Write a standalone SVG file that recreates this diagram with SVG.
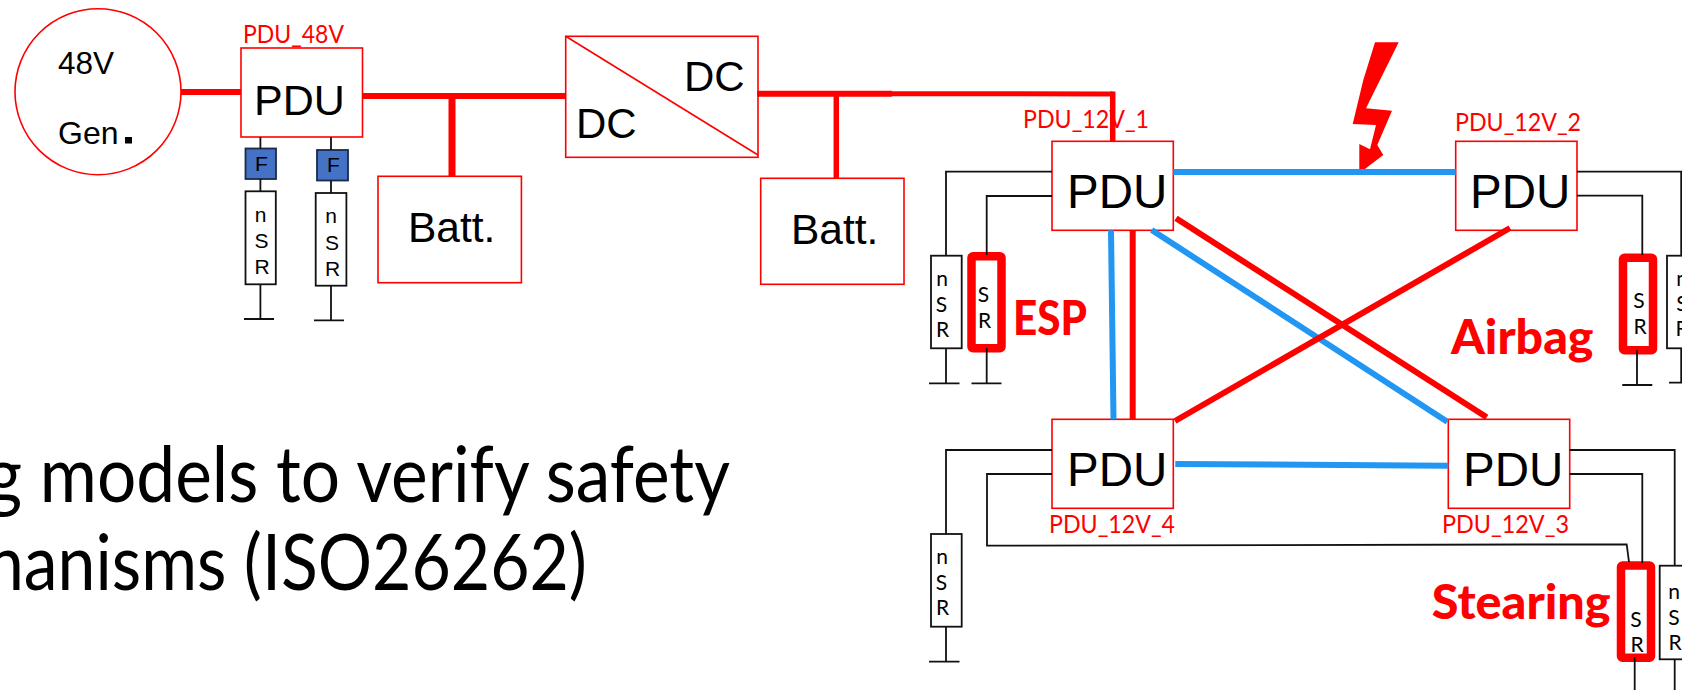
<svg xmlns="http://www.w3.org/2000/svg" width="1682" height="690" viewBox="0 0 1682 690">
<style>
text{font-family:"Liberation Sans",Arial,sans-serif;fill:#000}
.box{fill:#fff;stroke:#f00;stroke-width:1.6}
.pdu{font-size:47.5px}
.pdu48{font-size:43px}
.batt{font-size:42.5px}
.dc{font-size:42px}
.lbl{font-family:Lato,"Open Sans",sans-serif;font-size:25px;fill:#f00}
.crit{font-family:Lato,"Open Sans",sans-serif;font-weight:900;font-size:47px;fill:#f00}
.big{font-family:Lato,"Open Sans",sans-serif;font-size:78px}
.r{fill:#fff;stroke:#111;stroke-width:1.8}
.sr{fill:#fff;stroke:#f00;stroke-width:8.5;stroke-linejoin:round}
.fuse{fill:#4472c4;stroke:#1a2a4a;stroke-width:1.8}
.l1{font-size:21px;text-anchor:middle}
.l2{font-family:Lato,"Open Sans",sans-serif;font-size:21px;text-anchor:middle}
.w{fill:none;stroke:#111;stroke-width:1.8}
.t{fill:none;stroke:#f00;stroke-width:6}
.b{fill:none;stroke:#2196f3;stroke-width:6}
</style>

<g id="caption">
<text class="big" x="-14" y="502" textLength="744" lengthAdjust="spacingAndGlyphs">g models to verify safety</text>
<text class="big" x="-14" y="590" textLength="601" lengthAdjust="spacingAndGlyphs">hanisms (ISO26262)</text>
</g>

<g id="gen48">
<ellipse class="box" cx="98" cy="91.7" rx="83" ry="83"/>
<text x="58" y="74" font-size="31.5">48V</text>
<text x="58" y="144" font-size="32">Gen</text>
<rect x="125" y="137" width="7" height="6.5" fill="#000"/>
</g>

<g id="pdu48">
<rect class="box" x="241" y="48" width="121.5" height="89"/>
<text class="pdu48" x="254" y="115">PDU</text>
<text class="lbl" x="243" y="42.7" textLength="101" lengthAdjust="spacingAndGlyphs">PDU_48V</text>
</g>

<g id="fuse1"><rect class="fuse" x="245.5" y="148.5" width="30.5" height="30.5"/><text class="l1" x="261.5" y="171">F</text></g>
<g id="fuse2"><rect class="fuse" x="317" y="150" width="31" height="30.5"/><text class="l1" x="333.5" y="171.5">F</text></g>
<g id="nsr1"><rect class="r" x="245.5" y="191.3" width="30.3" height="93"/>
<text class="l1" x="260.5" y="221.7">n</text><text class="l1" x="261.5" y="248.3">S</text><text class="l1" x="262" y="274">R</text></g>
<g id="nsr2"><rect class="r" x="315.7" y="193" width="30.7" height="92.7"/>
<text class="l1" x="331" y="223">n</text><text class="l1" x="332" y="249.5">S</text><text class="l1" x="332.5" y="275.5">R</text></g>

<g id="batt1"><rect class="box" x="378" y="176.3" width="143.4" height="106.4"/><text class="batt" x="408" y="242">Batt.</text></g>

<g id="dcdc">
<rect class="box" x="565.7" y="36.3" width="192.3" height="121"/>
<path d="M565.7 36.3L758 155" fill="none" stroke="#f00" stroke-width="1.6"/>
<text class="dc" x="684" y="91">DC</text>
<text class="dc" x="576" y="138">DC</text>
</g>

<g id="batt2"><rect class="box" x="760.7" y="178.3" width="143.3" height="106"/><text class="batt" x="791" y="244">Batt.</text></g>

<g id="pdu1">
<rect class="box" x="1052" y="141.3" width="121.3" height="89"/>
<text class="pdu" x="1067" y="208">PDU</text>
<text class="lbl" x="1023" y="128" textLength="126" lengthAdjust="spacingAndGlyphs">PDU_12V_1</text>
</g>
<g id="pdu2">
<rect class="box" x="1455.7" y="141.3" width="121.3" height="89"/>
<text class="pdu" x="1470" y="208">PDU</text>
<text class="lbl" x="1455" y="130.7" textLength="126" lengthAdjust="spacingAndGlyphs">PDU_12V_2</text>
</g>
<g id="pdu3">
<rect class="box" x="1448.3" y="419.3" width="121.4" height="89"/>
<text class="pdu" x="1463" y="486">PDU</text>
<text class="lbl" x="1442" y="532.7" textLength="127" lengthAdjust="spacingAndGlyphs">PDU_12V_3</text>
</g>
<g id="pdu4">
<rect class="box" x="1052" y="419.3" width="121.3" height="89"/>
<text class="pdu" x="1067" y="486">PDU</text>
<text class="lbl" x="1049" y="532.7" textLength="126" lengthAdjust="spacingAndGlyphs">PDU_12V_4</text>
</g>

<g id="nsr-pdu1"><rect class="r" x="931" y="255.7" width="30.7" height="92.6"/>
<text class="l2" x="942" y="286">n</text><text class="l2" x="941.5" y="311.7">S</text><text class="l2" x="942.5" y="337">R</text></g>
<g id="sr-esp"><rect class="sr" x="971.5" y="256.2" width="30" height="92" rx="1.5"/>
<text class="l2" x="983.5" y="302">S</text><text class="l2" x="984.5" y="328">R</text></g>
<text id="esp" class="crit" x="1013" y="335" textLength="74" lengthAdjust="spacingAndGlyphs">ESP</text>

<g id="nsr-pdu2"><rect class="r" x="1667" y="255.7" width="30" height="92.6"/>
<text class="l2" x="1682" y="286">n</text><text class="l2" x="1682" y="311">S</text><text class="l2" x="1682" y="336">R</text></g>
<g id="sr-airbag"><rect class="sr" x="1623" y="257.7" width="30" height="92.5" rx="1.5"/>
<text class="l2" x="1639" y="308">S</text><text class="l2" x="1640" y="334">R</text></g>
<text id="airbag" class="crit" x="1451" y="354.3" textLength="142.5" lengthAdjust="spacingAndGlyphs">Airbag</text>

<g id="nsr-pdu4"><rect class="r" x="931" y="534" width="30.7" height="92.7"/>
<text class="l2" x="942" y="564">n</text><text class="l2" x="941.5" y="590">S</text><text class="l2" x="942.5" y="615">R</text></g>

<g id="nsr-pdu3"><rect class="r" x="1659.7" y="565.7" width="32" height="93.6"/>
<text class="l2" x="1674" y="599">n</text><text class="l2" x="1674" y="625">S</text><text class="l2" x="1675" y="650">R</text></g>
<g id="sr-stearing"><rect class="sr" x="1621" y="565.5" width="30" height="92.2" rx="1.5"/>
<text class="l2" x="1636" y="626.7">S</text><text class="l2" x="1637" y="652.3">R</text></g>
<text id="stearing" class="crit" x="1431.7" y="619.3" textLength="179" lengthAdjust="spacingAndGlyphs">Stearing</text>

<path id="lightning" fill="#f00" d="M1375 42.3L1398.7 42.3L1366 108.3L1392 110.7L1377.3 145L1383.3 155L1359.3 173.3L1359.3 144L1370 149.3L1376 125L1352.7 124L1363.3 80Z"/>

<g id="connectors">
<path class="w" d="M260.4 137V148.5M260.4 179V191.3M260.4 284.3V319M244 319H274"/>
<path class="w" d="M331 137V150M331 180.5V193M331 285.7V320.3M314 320.3H344"/>
<path class="w" d="M1052 171.7H946V255.7M946 348.3V383.3M929 383.3H959.5"/>
<path class="w" d="M1052 196H986.7V255M986.7 348V383.3M971.5 383.3H1001.5"/>
<path class="w" d="M1577 171.7H1681.2V255.7M1681.2 348.3V382.7M1669 382.7H1682" />
<path class="w" d="M1577 195.7H1642.3V255M1637 350V385M1622.3 385H1652.3"/>
<path class="w" d="M1052 450H946V534M946 626.7V661.7M929 661.7H959.5"/>
<path class="w" d="M1052 474H987V545.7L1626.7 544.3L1629 562"/>
<path class="w" d="M1569.7 450H1674.7V565.7M1674.7 659.3V690"/>
<path class="w" d="M1569.7 474H1642.3V563M1634.7 657V690"/>
<path class="t" d="M181 92H241"/>
<path class="t" d="M362.5 96H565.7"/>
<path class="t" d="M452 96V176.3" style="stroke-width:7"/>
<path class="t" d="M757 93.7H892"/>
<path class="t" d="M892 93.7L1112.7 94" style="stroke-width:5"/>
<path class="t" d="M1112.7 91.5V141.3" style="stroke-width:5.5"/>
<path class="t" d="M836.3 94V178.3" style="stroke-width:5.5"/>
<path class="b" d="M1173.3 172H1455.7"/>
<path class="b" d="M1111 230.3L1113.5 419.3"/>
<path class="b" d="M1151.7 230L1447.3 421.7"/>
<path class="b" d="M1175.3 464L1448.3 465.7"/>
<path class="t" d="M1132.7 230.3V419.3"/>
<path class="t" d="M1176 218.3L1486.7 417.3"/>
<path class="t" d="M1510 228L1175 421"/>
</g>
</svg>
